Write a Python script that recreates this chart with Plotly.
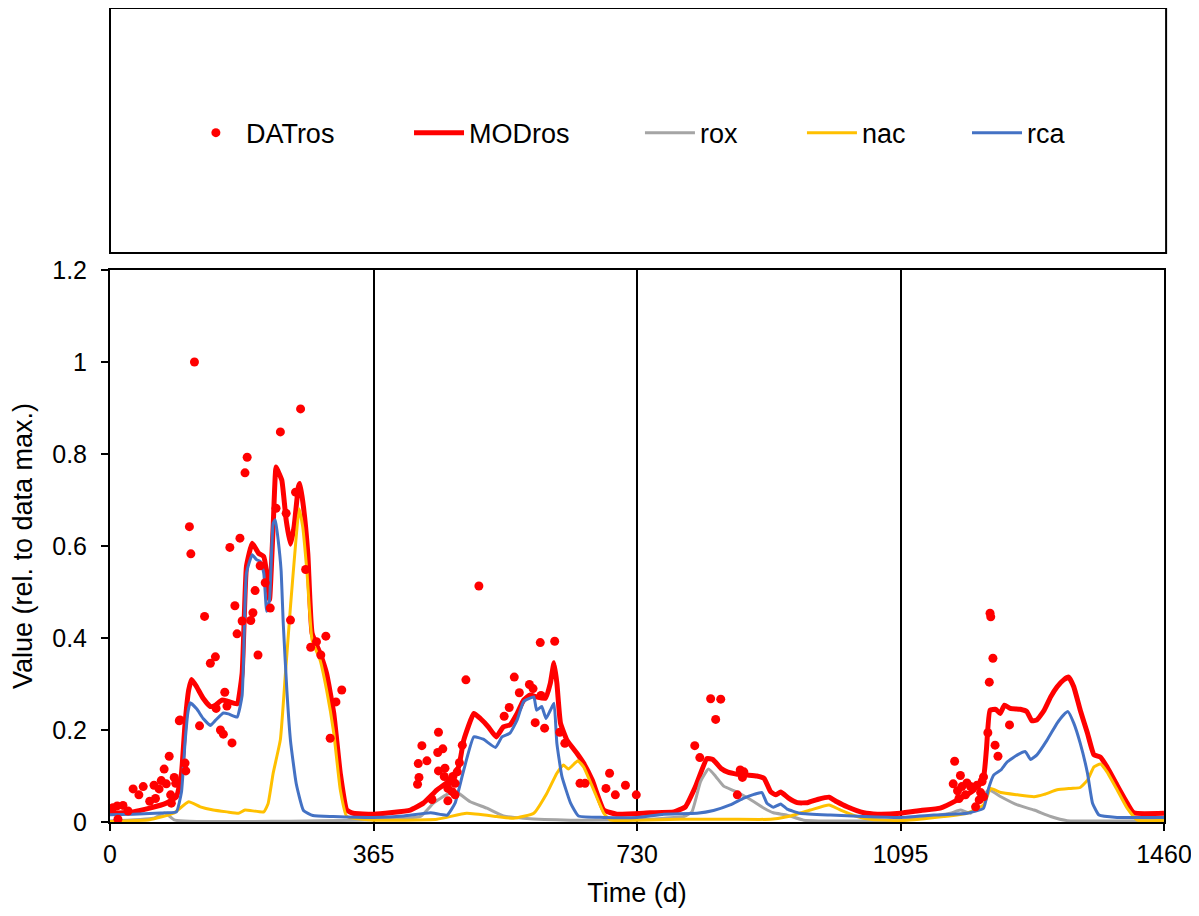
import plotly.graph_objects as go

# ---------------- data ----------------
dat_day = [117, 264, 236, 190, 187, 110, 112, 166, 180, 257, 230, 244, 271, 208, 215, 201, 198, 195, 183, 173,
           176, 222, 250, 131, 205, 146, 139, 278, 286, 292, 299, 321, 313, 305, 159, 147, 162, 153, 157, 169,
           124, 97, 96, 104, 105, 82, 75, 89, 71, 78, 68, 61, 46, 32, 40, 55, 63, 84, 91, 85, 18, 10, 4, 25, 11,
           511, 596, 616, 493, 560, 581, 567, 586, 597, 553, 546, 589, 602, 455, 623, 630, 432, 454, 461, 439,
           427, 428, 426, 455, 464, 463, 484, 488, 481, 471, 478, 475, 468, 474, 478, 468, 446, 651, 658, 692,
           687, 700, 714, 729,
           832, 846, 839, 810, 817, 873, 878, 876, 869,
           1219, 1220, 1223, 1218, 1246, 1216, 1226, 1230, 1170, 1178, 1168, 1187, 1174, 1180, 1192, 1176, 1185,
           1201, 1208, 1210, 1206, 1204, 1199, 1210]
dat_val = [1.0, 0.898, 0.848, 0.793, 0.759, 0.642, 0.583, 0.597, 0.617, 0.717, 0.682, 0.671, 0.549, 0.557, 0.520,
           0.503, 0.455, 0.438, 0.437, 0.470, 0.409, 0.465, 0.439, 0.447, 0.363, 0.359, 0.345, 0.380, 0.392, 0.363,
           0.404, 0.287, 0.261, 0.182, 0.282, 0.247, 0.252, 0.200, 0.191, 0.172, 0.209, 0.222, 0.220, 0.128, 0.111,
           0.143, 0.115, 0.097, 0.090, 0.083, 0.072, 0.080, 0.077, 0.072, 0.059, 0.045, 0.051, 0.059, 0.084, 0.041,
           0.036, 0.035, 0.031, 0.024, 0.006,
           0.513, 0.390, 0.393, 0.309, 0.315, 0.299, 0.281, 0.290, 0.275, 0.249, 0.230, 0.216, 0.204, 0.195, 0.195,
           0.171, 0.166, 0.151, 0.159, 0.133, 0.127, 0.097, 0.082, 0.111, 0.117, 0.099, 0.129, 0.167, 0.109, 0.089,
           0.084, 0.099, 0.073, 0.066, 0.059, 0.046, 0.049, 0.084, 0.084, 0.106, 0.073, 0.059, 0.080, 0.059,
           0.268, 0.267, 0.223, 0.166, 0.140, 0.113, 0.109, 0.097, 0.059,
           0.454, 0.446, 0.356, 0.304, 0.211, 0.194, 0.167, 0.143, 0.132, 0.101, 0.083, 0.085, 0.068, 0.077, 0.077,
           0.051, 0.059, 0.080, 0.088, 0.098, 0.064, 0.048, 0.033, 0.055]

mod_day = [0, 32, 55, 78, 92, 99, 104, 109, 113, 120, 129, 139, 146, 155, 164, 176, 183, 189, 197, 206, 213, 217,
           221, 226, 230, 233, 238, 244, 250, 255, 261, 263, 268, 274, 280, 291, 300, 310, 319, 328, 337, 365,
           416, 434, 453, 471, 483, 490, 504, 513, 524, 535, 545, 554, 564, 573, 582, 591, 603, 610, 615, 619,
           624, 633, 647, 656, 668, 684, 702, 748,
           781, 797, 811, 827, 835, 846, 855, 869, 883, 896, 906, 915, 922, 929, 940, 952, 966, 980, 996, 1007,
           1021, 1044, 1063, 1095,
           1123, 1150, 1174, 1197, 1210, 1214, 1219, 1227, 1233, 1239, 1247, 1261, 1270, 1277, 1284, 1294, 1303,
           1312, 1321, 1328, 1335, 1344, 1354, 1363, 1372, 1381, 1395, 1409, 1418, 1460]
mod_val = [0.019, 0.022, 0.030, 0.041, 0.055, 0.106, 0.215, 0.287, 0.310, 0.294, 0.269, 0.251, 0.254, 0.265, 0.262,
           0.257, 0.323, 0.555, 0.606, 0.584, 0.577, 0.541, 0.483, 0.642, 0.772, 0.762, 0.743, 0.657, 0.604, 0.642,
           0.729, 0.736, 0.685, 0.584, 0.410, 0.367, 0.323, 0.236, 0.106, 0.026, 0.019, 0.017,
           0.026, 0.041, 0.070, 0.091, 0.120, 0.178, 0.236, 0.225, 0.207, 0.185, 0.207, 0.211, 0.236, 0.265, 0.276,
           0.272, 0.269, 0.302, 0.346, 0.302, 0.215, 0.178, 0.149, 0.128, 0.091, 0.026, 0.017, 0.020,
           0.022, 0.033, 0.077, 0.138, 0.136, 0.117, 0.109, 0.104, 0.102, 0.100, 0.095, 0.066, 0.059, 0.065, 0.052,
           0.042, 0.042, 0.049, 0.054, 0.044, 0.033, 0.020, 0.017, 0.019,
           0.025, 0.030, 0.048, 0.070, 0.098, 0.157, 0.243, 0.245, 0.236, 0.254, 0.247, 0.245, 0.240, 0.220, 0.222,
           0.243, 0.272, 0.294, 0.309, 0.315, 0.294, 0.243, 0.193, 0.146, 0.141, 0.120, 0.080, 0.041, 0.020, 0.019]

rox_day = [0, 60, 76, 90, 365, 430, 448, 469, 481, 499, 522, 545, 573, 638, 730, 795, 806, 818, 829, 839, 850, 864,
           878, 892, 906, 919, 938, 961, 1095, 1164, 1178, 1192, 1217, 1234, 1257, 1280, 1303, 1326, 1460]
rox_val = [0.002, 0.008, 0.020, 0.004, 0.005, 0.012, 0.041, 0.062, 0.064, 0.044, 0.030, 0.013, 0.008, 0.004, 0.005,
           0.012, 0.022, 0.088, 0.115, 0.099, 0.078, 0.068, 0.057, 0.044, 0.030, 0.020, 0.015, 0.004, 0.003, 0.019,
           0.026, 0.019, 0.070, 0.055, 0.037, 0.026, 0.012, 0.003, 0.003]

nac_day = [0, 55, 88, 109, 125, 143, 162, 178, 187, 213, 219, 226, 236, 243, 250, 256, 262, 267, 273, 280, 291, 300,
           310, 319, 328, 365, 453, 494, 536, 559, 587, 605, 619, 628, 635, 648, 656, 670, 684, 693, 730, 790, 859,
           915, 943, 970, 996, 1012, 1035, 1053, 1095, 1155, 1187, 1210, 1220, 1234, 1257, 1280, 1294, 1312, 1331,
           1344, 1354, 1363, 1372, 1381, 1395, 1409, 1423, 1460]
nac_val = [0.001, 0.005, 0.019, 0.044, 0.033, 0.026, 0.022, 0.019, 0.026, 0.022, 0.040, 0.106, 0.179, 0.323, 0.468,
           0.584, 0.681, 0.641, 0.540, 0.395, 0.352, 0.287, 0.193, 0.070, 0.012, 0.004, 0.006, 0.019, 0.012, 0.008,
           0.019, 0.062, 0.106, 0.124, 0.115, 0.133, 0.120, 0.070, 0.019, 0.004, 0.004, 0.006, 0.006, 0.006, 0.013,
           0.026, 0.037, 0.026, 0.012, 0.006, 0.003, 0.012, 0.019, 0.037, 0.073, 0.064, 0.059, 0.055, 0.060, 0.070,
           0.073, 0.075, 0.091, 0.120, 0.126, 0.109, 0.070, 0.030, 0.004, 0.004]

rca_day = [0, 32, 78, 92, 99, 104, 108, 111, 120, 129, 139, 146, 157, 164, 176, 183, 189, 197, 203, 208, 213, 217,
           221, 226, 229, 233, 237, 240, 245, 250, 258, 268, 281, 309, 365, 407, 444, 467, 478, 490, 504, 517, 534,
           543, 554, 564, 573, 587, 591, 598, 604, 610, 615, 619, 626, 638, 649, 684, 730, 767, 813, 836, 859, 878,
           892, 903, 910, 919, 929, 938, 956, 998, 1044, 1095, 1141, 1187, 1210, 1217, 1224, 1234, 1243, 1257,
           1268, 1275, 1284, 1298, 1312, 1321, 1327, 1335, 1344, 1354, 1361, 1370, 1395, 1460]
rca_val = [0.016, 0.017, 0.020, 0.022, 0.065, 0.174, 0.239, 0.259, 0.246, 0.225, 0.210, 0.221, 0.237, 0.235, 0.228,
           0.275, 0.541, 0.581, 0.570, 0.567, 0.541, 0.458, 0.483, 0.649, 0.657, 0.612, 0.547, 0.431, 0.286, 0.177,
           0.083, 0.025, 0.014, 0.012, 0.010, 0.013, 0.020, 0.015, 0.041, 0.113, 0.185, 0.180, 0.162, 0.185, 0.193,
           0.222, 0.262, 0.272, 0.243, 0.251, 0.225, 0.243, 0.258, 0.171, 0.099, 0.041, 0.013, 0.010, 0.010, 0.017,
           0.019, 0.025, 0.037, 0.052, 0.060, 0.064, 0.041, 0.032, 0.039, 0.028, 0.019, 0.015, 0.012, 0.010, 0.015,
           0.019, 0.030, 0.073, 0.102, 0.113, 0.131, 0.146, 0.153, 0.136, 0.146, 0.178, 0.215, 0.233, 0.240, 0.215,
           0.171, 0.106, 0.041, 0.015, 0.010, 0.010]

x_ticks = [0, 365, 730, 1095, 1460]
y_ticks = [0, 0.2, 0.4, 0.6, 0.8, 1.0, 1.2]

# ---------------- figure ----------------
FONT = "Liberation Sans, Arial, sans-serif"
fig = go.Figure()

SM = dict(shape="spline", smoothing=0.4)
fig.add_trace(go.Scatter(x=mod_day, y=mod_val, mode="lines", name="MODros",
                         line=dict(color="#FF0000", width=5, **SM), legend="legend2"))
fig.add_trace(go.Scatter(x=rox_day, y=rox_val, mode="lines", name="rox",
                         line=dict(color="#A5A5A5", width=3, **SM), legend="legend3"))
fig.add_trace(go.Scatter(x=nac_day, y=nac_val, mode="lines", name="nac",
                         line=dict(color="#FFC000", width=3, **SM), legend="legend4"))
fig.add_trace(go.Scatter(x=rca_day, y=rca_val, mode="lines", name="rca",
                         line=dict(color="#4472C4", width=3, **SM), legend="legend5"))
fig.add_trace(go.Scatter(x=dat_day, y=dat_val, mode="markers", name="DATros",
                         marker=dict(color="#FF0000", size=9), legend="legend"))

leg_common = dict(orientation="h", yanchor="middle", y=1.248, xanchor="left",
                  bgcolor="rgba(0,0,0,0)", borderwidth=0,
                  font=dict(family=FONT, size=27, color="black"), itemwidth=50)

legend_x = {"legend": 0.072, "legend2": 0.2837, "legend3": 0.5028, "legend4": 0.6565, "legend5": 0.8131}

# page body has an 8px margin: the figure is sized so the plot area lands on the reference pixels
fig.update_layout(
    width=1191, height=908,
    paper_bgcolor="white", plot_bgcolor="white",
    margin=dict(l=102, r=35, t=262, b=94, autoexpand=False),
    font=dict(family=FONT, size=25, color="black"),
    showlegend=True,
    **{k: dict(leg_common, x=v) for k, v in legend_x.items()},
    xaxis=dict(range=[0, 1460], tickvals=x_ticks, ticks="outside", ticklen=7, tickwidth=2,
               tickcolor="black", showline=True, linecolor="black", linewidth=2, mirror=True,
               showgrid=True, gridcolor="black", gridwidth=2, zeroline=False, automargin=False,
               tickfont=dict(size=25), ticklabelstandoff=2,
               title=dict(text="Time (d)", font=dict(size=27), standoff=16)),
    yaxis=dict(range=[0, 1.2], tickvals=y_ticks, ticks="outside", ticklen=7, tickwidth=2,
               tickcolor="black", showline=True, linecolor="black", linewidth=2, mirror=True,
               showgrid=False, zeroline=False, tickfont=dict(size=25), automargin=False,
               ticklabelstandoff=9,
               title=dict(text="Value (rel. to data max.)", font=dict(size=27), standoff=14)),
)

# legend frame
fig.add_shape(type="rect", xref="paper", yref="paper", x0=0, x1=1.002, y0=1.0308, y1=1.4746,
              line=dict(color="black", width=2), fillcolor="rgba(0,0,0,0)")

fig.write_html("out.html")
